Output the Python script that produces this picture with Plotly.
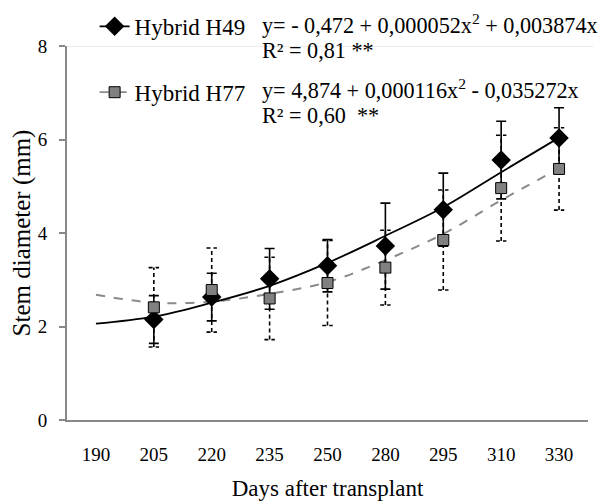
import plotly.graph_objects as go

# ---- data ----
days = ["190", "205", "220", "235", "250", "280", "295", "310", "330"]
obs_days = ["205", "220", "235", "250", "280", "295", "310", "330"]

h49_mean = [2.15, 2.63, 3.02, 3.30, 3.72, 4.50, 5.56, 6.03]
h49_err = [0.51, 0.51, 0.65, 0.56, 0.92, 0.78, 0.83, 0.65]
h77_mean = [2.41, 2.78, 2.60, 2.93, 3.26, 3.85, 4.96, 5.37]
h77_err = [0.85, 0.90, 0.88, 0.91, 0.80, 1.07, 1.13, 0.88]

# fitted trend curves (at each category)
h49_fit = [2.06, 2.21, 2.51, 2.87, 3.36, 3.94, 4.55, 5.30, 6.04]
h77_fit = [2.68, 2.51, 2.53, 2.70, 2.95, 3.42, 3.98, 4.70, 5.38]

eq49 = "y= - 0,472 + 0,000052x<sup>2</sup> + 0,003874x"
r49 = "R² = 0,81 **"
eq77 = "y= 4,874 + 0,000116x<sup>2</sup> - 0,035272x"
r77 = "R² = 0,60  **"

FONT = "Liberation Serif"
pos = {d: i for i, d in enumerate(days)}
xi_fit = [pos[d] for d in days]
xi_obs = [pos[d] for d in obs_days]

fig = go.Figure()

# trend curves
fig.add_trace(go.Scatter(x=xi_fit, y=h77_fit, mode="lines", showlegend=False,
                         line=dict(color="#8a8a8a", width=2, dash="dash", shape="spline")))
fig.add_trace(go.Scatter(x=xi_fit, y=h49_fit, mode="lines", showlegend=False,
                         line=dict(color="black", width=1.8, shape="spline")))

# H77 dashed error bars (built from data)
cap = 0.09
ex, ey = [], []
for xv, m, e in zip(xi_obs, h77_mean, h77_err):
    ex += [xv, xv, None, xv - cap, xv + cap, None, xv - cap, xv + cap, None]
    ey += [m - e, m + e, None, m + e, m + e, None, m - e, m - e, None]
fig.add_trace(go.Scatter(x=ex, y=ey, mode="lines", showlegend=False, hoverinfo="skip",
                         line=dict(color="black", width=1.6, dash="4px,3px")))

# H49 markers with solid error bars
fig.add_trace(go.Scatter(x=xi_obs, y=h49_mean, mode="markers", showlegend=False,
                         marker=dict(symbol="diamond", size=15, color="black"),
                         error_y=dict(type="data", array=h49_err, visible=True,
                                      color="black", thickness=1.6, width=5)))
# H77 markers
fig.add_trace(go.Scatter(x=xi_obs, y=h77_mean, mode="markers", showlegend=False,
                         marker=dict(symbol="square", size=11, color="#808080",
                                     line=dict(color="black", width=1))))

# legend entries
fig.add_trace(go.Scatter(x=[None], y=[None], mode="lines+markers", name="Hybrid H49",
                         legendgroup="a",
                         line=dict(color="black", width=1.8),
                         marker=dict(symbol="diamond", size=15, color="black")))
fig.add_trace(go.Scatter(x=[None], y=[None], mode="lines+markers", name="Hybrid H77",
                         legendgroup="b",
                         line=dict(color="#8a8a8a", width=1.8, dash="dash"),
                         marker=dict(symbol="square", size=11, color="#808080",
                                     line=dict(color="black", width=1))))

# top border/grid line at y = 8
fig.add_shape(type="line", xref="x domain", yref="y", x0=0, x1=1.01, y0=8, y1=8,
              line=dict(color="#d9d9d9", width=1), layer="below")

for txt, yy in [(eq49, 1.060), (r49, 0.988), (eq77, 0.886), (r77, 0.814)]:
    fig.add_annotation(text=txt, xref="paper", yref="paper", x=0.370, y=yy,
                       xanchor="left", yanchor="middle", showarrow=False,
                       font=dict(family=FONT, size=22.2, color="black"))

fig.update_layout(
    width=604, height=493,
    margin=dict(l=59, r=24, t=38, b=81, autoexpand=False),
    paper_bgcolor="white", plot_bgcolor="white",
    font=dict(family=FONT, color="black", size=19),
    showlegend=True,
    legend=dict(x=0.053, y=1.11, xanchor="left", yanchor="top",
                font=dict(family=FONT, size=23, color="black"),
                bgcolor="rgba(0,0,0,0)", tracegroupgap=33, traceorder="grouped"),
    xaxis=dict(range=[-0.5, 8.5], tickmode="array", tickvals=xi_fit, ticktext=days,
               showgrid=False, zeroline=False, showline=True, linecolor="#888888",
               linewidth=2, ticks="", ticklabelstandoff=16, automargin=False,
               tickfont=dict(family=FONT, size=19, color="black"),
               title=dict(text="Days after transplant", standoff=18,
                          font=dict(family=FONT, size=23, color="black"))),
    yaxis=dict(range=[0, 8], tickvals=[0, 2, 4, 6, 8], showgrid=False, zeroline=False,
               showline=True, linecolor="#888888", linewidth=2,
               ticks="outside", ticklen=6, tickcolor="#888888", tickwidth=2,
               ticklabelstandoff=8, automargin=False,
               tickfont=dict(family=FONT, size=19, color="black"),
               title=dict(text="Stem diameter (mm)", standoff=5,
                          font=dict(family=FONT, size=25, color="black"))),
)

fig.write_html("out.html")
